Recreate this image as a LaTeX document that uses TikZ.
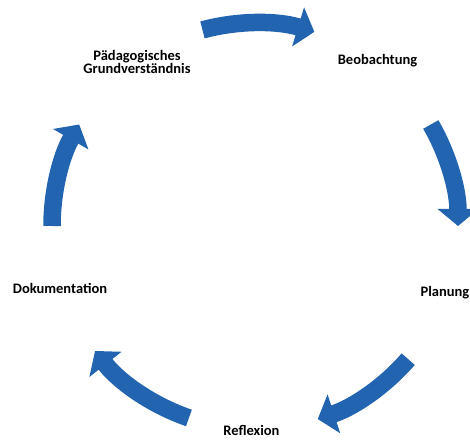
\documentclass[tikz,border=0pt]{standalone}
\usepackage{fontspec}
\setmainfont{Carlito}
\usetikzlibrary{arrows.meta}
\definecolor{cycblue}{RGB}{34,100,176}
\begin{document}
\begin{tikzpicture}[x=1pt,y=1pt,
  cycarrow/.style={draw=cycblue, line width=17.5pt, -{Triangle[width=40pt,length=17pt]}},
  lbl/.style={font=\bfseries\fontsize{14.5}{13}\selectfont, inner sep=0pt, align=center}]
\useasboundingbox (0,0) rectangle (470,439);
\clip (0,0) rectangle (470,439);
\coordinate (c) at (255,213);
% labels
\node[lbl] (grund) at (137,377) {Pädagogisches\\Grundverständnis};
\node[lbl, anchor=base] (beob) at (377.5,374.5) {Beobachtung};
\node[lbl, anchor=base east] (plan) at (469.5,143) {Planung};
\node[lbl, anchor=base] (refl) at (251.5,4) {Reflexion};
\node[lbl, anchor=base] (doku) at (60,146) {Dokumentation};
% cycle arrows
\draw[cycarrow] ([shift={(105:203)}]c) arc[start angle=105, end angle=73, radius=203];
\draw[cycarrow] ([shift={(30:203)}]c) arc[start angle=30, end angle=0, radius=203];
\draw[cycarrow] ([shift={(-41:203)}]c) arc[start angle=-41, end angle=-72, radius=203];
\draw[cycarrow] ([shift={(-109:203)}]c) arc[start angle=-109, end angle=-142, radius=203];
\draw[cycarrow] ([shift={(180:203)}]c) arc[start angle=180, end angle=150, radius=203];
\end{tikzpicture}
\end{document}
